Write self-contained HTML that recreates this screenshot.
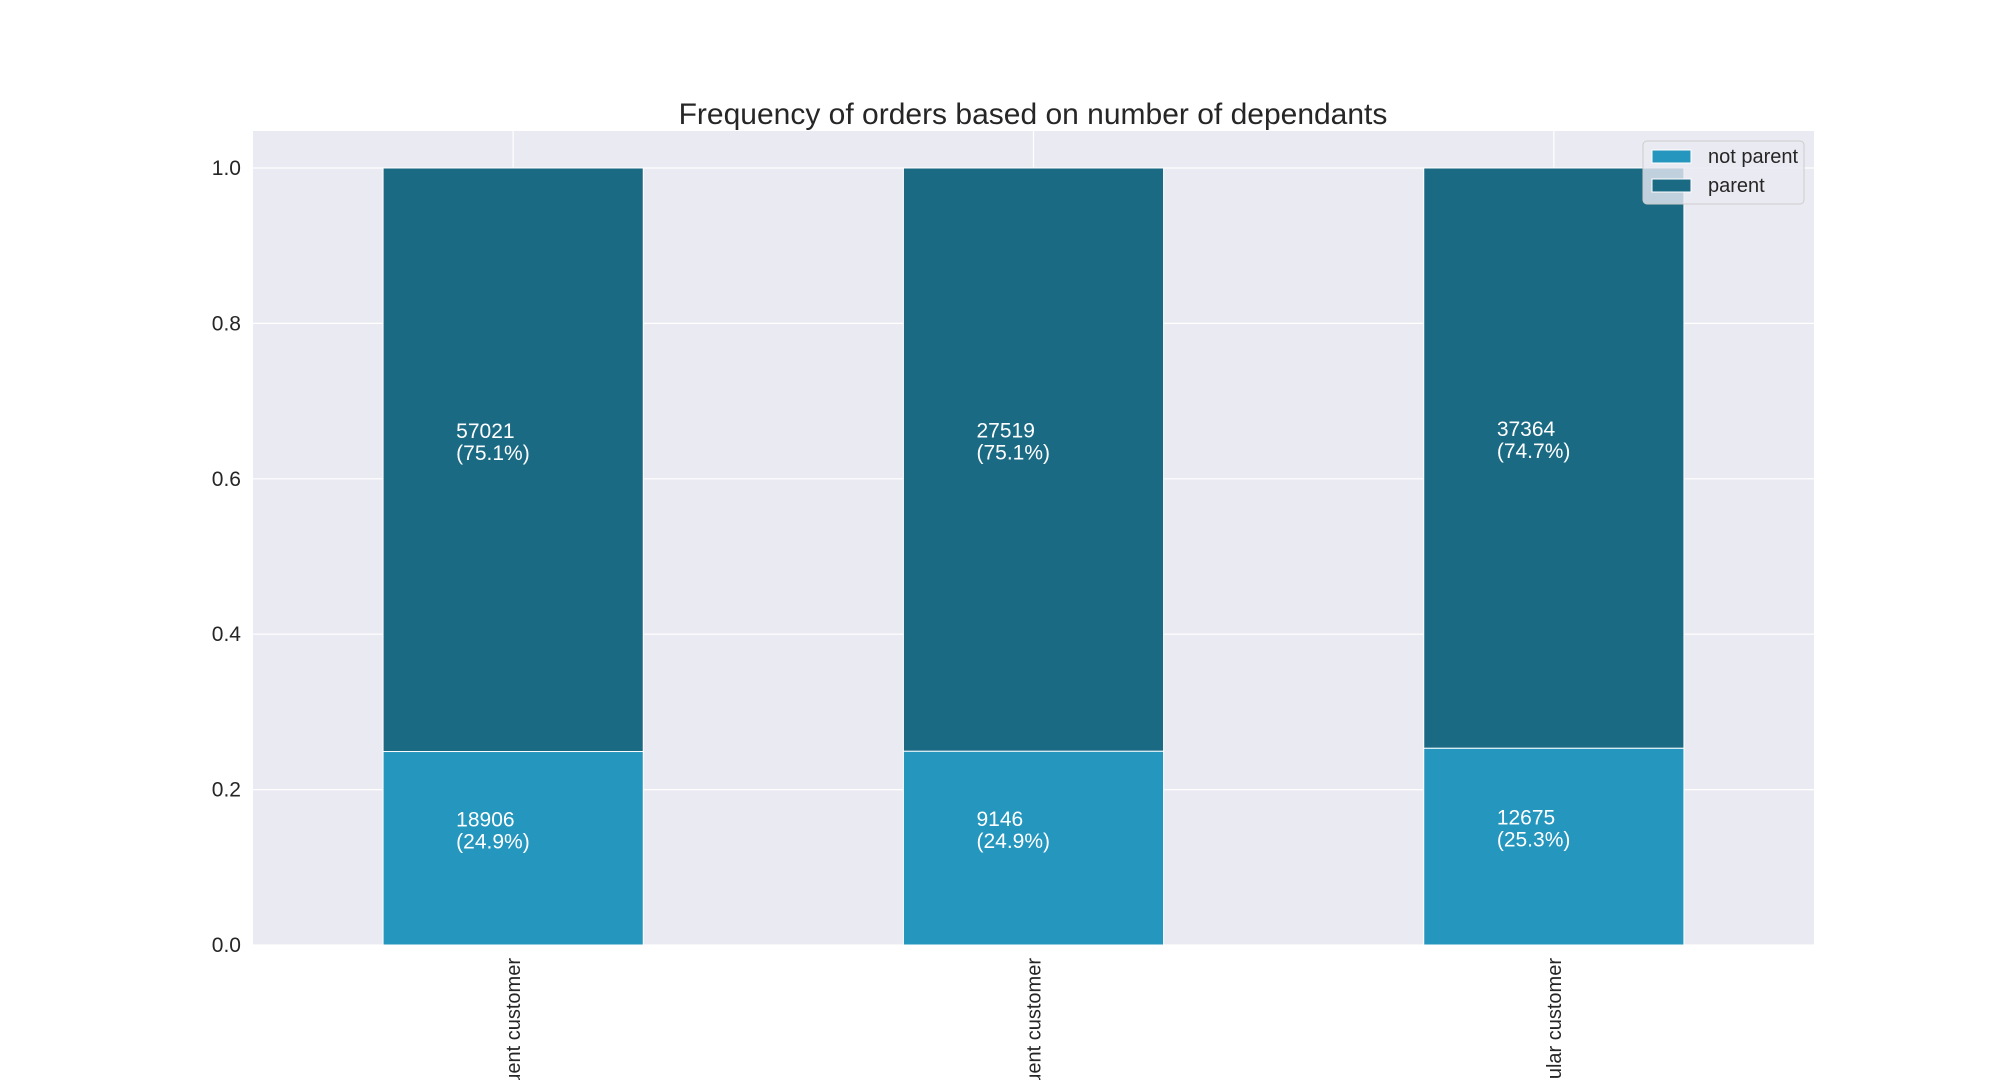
<!DOCTYPE html>
<html><head><meta charset="utf-8"><style>
html,body{margin:0;padding:0;background:#fff;width:2016px;height:1080px;overflow:hidden;}
svg{display:block;font-family:"Liberation Sans",Arial,sans-serif;overflow:hidden;}
</style></head><body>
<svg id="chart" width="2016" height="1080" viewBox="0 0 2016 1080">
<rect x="253" y="131" width="1561" height="814" fill="#eaeaf2"/>
<g id="grid"></g>
<g id="bars"></g>
<g id="labels"></g>
<g id="yticks"></g>
<g id="xticks"></g>
<text x="1033" y="124" text-anchor="middle" font-size="30" fill="#262626">Frequency of orders based on number of dependants</text>
<g>
<rect x="1643" y="141" width="161" height="63" rx="4" fill="#eaeaf2" fill-opacity="0.8" stroke="#cccccc"/>
<rect x="1652" y="150" width="39" height="13" fill="#2596be" stroke="#fff" stroke-width="1"/>
<text x="1708" y="163" font-size="20" fill="#262626">not parent</text>
<rect x="1652" y="179" width="39" height="13" fill="#1b6a84" stroke="#fff" stroke-width="1"/>
<text x="1708" y="192" font-size="20" fill="#262626">parent</text>
</g>
</svg>
<script>
const categories = ["Frequent customer", "Non frequent customer", "Regular customer"];
const notParent = [18906, 9146, 12675];
const parent = [57021, 27519, 37364];
const yTicks = [0, 0.2, 0.4, 0.6, 0.8, 1.0];

const NS = "http://www.w3.org/2000/svg";
const L = 253, R = 1814, T = 131, B = 945;
const xMin = -0.5, xMax = 2.5, yMin = 0, yMax = 1.0476;
function xs(v){ return L + (v - xMin) / (xMax - xMin) * (R - L); }
function ys(v){ return B - (v - yMin) / (yMax - yMin) * (B - T); }
function mk(tag, attrs, parent){ const e = document.createElementNS(NS, tag); for (const k in attrs) e.setAttribute(k, attrs[k]); parent.appendChild(e); return e; }

const grid = document.getElementById('grid');
const yt = document.getElementById('yticks');
yTicks.forEach(function(t){
  const ln = mk('line', {x1: L, x2: R, y1: ys(t), y2: ys(t), stroke: '#fff', 'stroke-width': 1.2}, grid);
  
  
  const tx = mk('text', {x: 241, y: ys(t) + 7, 'text-anchor': 'end', 'font-size': 21, fill: '#262626'}, yt);
  tx.textContent = t.toFixed(1);
  
  
});
const bars = document.getElementById('bars');
const labs = document.getElementById('labels');
const xt = document.getElementById('xticks');
const bw = 0.5;
categories.forEach(function(c, i){
  const gl = mk('line', {x1: xs(i), x2: xs(i), y1: T, y2: B, stroke: '#fff', 'stroke-width': 1.2}, grid);
  
  
  const tot = notParent[i] + parent[i];
  const f0 = notParent[i] / tot, f1 = parent[i] / tot;
  const x0 = xs(i - bw / 2), w = xs(i + bw / 2) - x0;
  const b0 = mk('rect', {x: x0, y: ys(f0), width: w, height: ys(0) - ys(f0), fill: '#2596be', stroke: '#fff', 'stroke-width': 1}, bars);
  
  
  const b1 = mk('rect', {x: x0, y: ys(f0 + f1), width: w, height: ys(f0) - ys(f0 + f1), fill: '#1b6a84', stroke: '#fff', 'stroke-width': 1}, bars);
  
  
  [[notParent[i], f0, f0 / 2], [parent[i], f1, f0 + f1 / 2]].forEach(function(s){
    const tx = mk('text', {x: xs(i) - 57, y: ys(s[2]) - 22, 'font-size': 21, fill: '#fff'}, labs);
    tx.textContent = s[0];
    
    
    const tp = mk('text', {x: xs(i) - 57, y: ys(s[2]), 'font-size': 21, fill: '#fff'}, labs);
    tp.textContent = '(' + (s[1] * 100).toFixed(1) + '%)';
    
    
  });
  const cl = mk('text', {x: 0, y: 0, 'text-anchor': 'end', 'font-size': 20, fill: '#262626', transform: 'translate(' + (xs(i) + 7) + ',958) rotate(-90)'}, xt);
  cl.textContent = c;
  
  
});
</script>
</body></html>
